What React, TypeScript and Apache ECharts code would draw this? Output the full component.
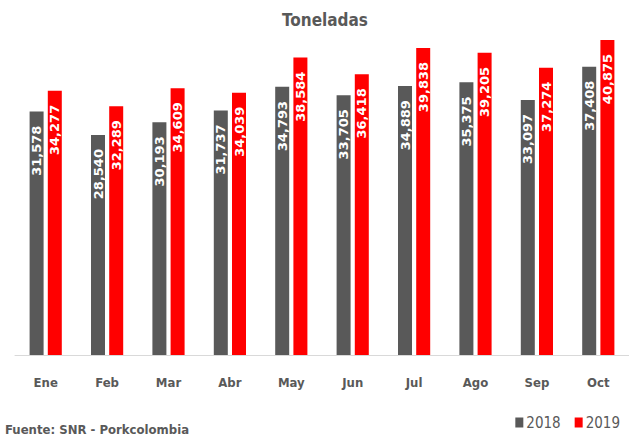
import React, { useEffect, useRef } from "react";
import * as echarts from "echarts";

const months = ["Ene", "Feb", "Mar", "Abr", "May", "Jun", "Jul", "Ago", "Sep", "Oct"];
const values2018 = [31578, 28540, 30193, 31737, 34793, 33705, 34889, 35375, 33097, 37408];
const values2019 = [34277, 32289, 34609, 34039, 38584, 36418, 39838, 39205, 37274, 40875];
const seriesNames = ["2018", "2019"];

const FONT = "'DejaVu Sans Condensed', 'DejaVu Sans', sans-serif";
const GRAY = "#595959";
const RED = "#FF0000";

export default function App() {
  const ref = useRef<HTMLDivElement>(null);
  useEffect(() => {
    if (!ref.current) return;
    const chart = echarts.init(ref.current, null, { renderer: "svg" });
    const fmt = (p: any) => Number(p.value).toLocaleString("en-US");
    const label = {
      show: true,
      position: "insideTop",
      distance: 14,
      rotate: 90,
      align: "right",
      verticalAlign: "middle",
      color: "#ffffff",
      fontFamily: "'DejaVu Sans', sans-serif",
      fontWeight: "bold",
      fontSize: 13,
      formatter: fmt,
    };
    chart.setOption({
      animation: false,
      backgroundColor: "#ffffff",
      grid: { left: 15, right: -6, top: 39, bottom: 83, containLabel: false },
      xAxis: {
        type: "category",
        data: months,
        axisLine: { show: true, lineStyle: { color: "#d9d9d9", width: 1 } },
        axisTick: { show: false },
        axisLabel: {
          color: GRAY,
          fontFamily: FONT,
          fontWeight: "bold",
          fontSize: 13,
          margin: 21,
        },
      },
      yAxis: {
        type: "value",
        min: 0,
        max: 41000,
        show: false,
        splitLine: { show: false },
      },
      legend: {
        data: seriesNames,
        right: 4,
        bottom: 3,
        itemWidth: 8,
        itemHeight: 10,
        itemGap: 14,
        icon: "rect",
        textStyle: { color: GRAY, fontFamily: FONT, fontSize: 15, padding: [0, 0, 0, -2] },
      },
      graphic: [
        {
          type: "text",
          x: 325,
          y: 20,
          style: {
            text: "Toneladas",
            fill: GRAY,
            font: `bold 17px ${FONT}`,
            textAlign: "center",
            textVerticalAlign: "middle",
          },
        },
        {
          type: "text",
          x: 5,
          y: 429,
          style: {
            text: "Fuente: SNR - Porkcolombia",
            fill: GRAY,
            font: `bold 13px ${FONT}`,
            textAlign: "left",
            textVerticalAlign: "middle",
          },
        },
      ],
      series: [
        {
          name: seriesNames[0],
          type: "bar",
          data: values2018,
          barWidth: 14,
          barGap: "30%",
          itemStyle: { color: GRAY },
          label,
        },
        {
          name: seriesNames[1],
          type: "bar",
          data: values2019,
          barWidth: 14,
          itemStyle: { color: RED },
          label,
        },
      ],
    });
    return () => chart.dispose();
  }, []);
  return (
    <div
      ref={ref}
      style={{ position: "fixed", left: 0, top: 0, width: 629, height: 438, background: "#fff" }}
    />
  );
}
